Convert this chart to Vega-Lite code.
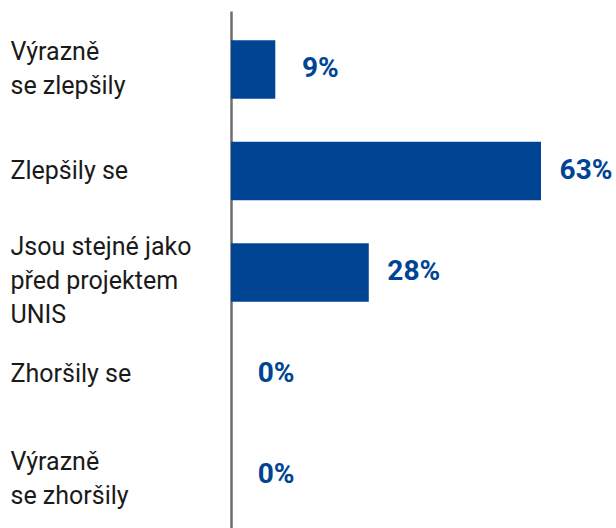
{
  "$schema": "https://vega.github.io/schema/vega-lite/v6.json",
  "width": 385,
  "height": 517,
  "padding": {"left": 231, "top": 11, "right": 0, "bottom": 0},
  "autosize": {"type": "none"},
  "background": "white",
  "config": {"view": {"stroke": null}, "font": "Roboto"},
  "data": {
    "values": [
      {"kategorie": "Výrazně|se zlepšily", "podil": 9, "popisek": "9%"},
      {"kategorie": "Zlepšily se", "podil": 63, "popisek": "63%"},
      {"kategorie": "Jsou stejné jako|před projektem|UNIS", "podil": 28, "popisek": "28%"},
      {"kategorie": "Zhoršily se", "podil": 0, "popisek": "0%"},
      {"kategorie": "Výrazně|se zhoršily", "podil": 0, "popisek": "0%"}
    ]
  },
  "encoding": {
    "y": {
      "field": "kategorie",
      "type": "nominal",
      "sort": null,
      "scale": {"paddingInner": 0.4236, "paddingOuter": 0.2586, "align": 0.557},
      "axis": {
        "title": null,
        "ticks": false,
        "tickSize": 0,
        "labelPadding": 221,
        "labelAlign": "left",
        "labelBaseline": "middle",
        "labelLimit": 0,
        "labelFont": "Roboto",
        "labelFontSize": 25,
        "labelLineHeight": 34,
        "labelColor": "#1a1a1a",
        "labelOffset": {
          "condition": [
            {"test": "datum.value == 'Jsou stejné jako|před projektem|UNIS'", "value": -25.5},
            {"test": "datum.value == 'Výrazně|se zlepšily'", "value": -17},
            {"test": "datum.value == 'Výrazně|se zhoršily'", "value": -13}
          ],
          "value": 0
        },
        "labelExpr": "split(datum.label, '|')",
        "domainColor": "#6e6e6e",
        "domainWidth": 2.5,
        "grid": false
      }
    }
  },
  "layer": [
    {
      "mark": {"type": "bar", "color": "#004494"},
      "encoding": {
        "x": {
          "field": "podil",
          "type": "quantitative",
          "scale": {"domain": [0, 78.24], "nice": false},
          "axis": null
        }
      }
    },
    {
      "mark": {"type": "text", "dx": 45, "align": "center", "baseline": "middle", "font": "Roboto", "fontWeight": "bold", "fontSize": 28, "color": "#004494"},
      "encoding": {
        "x": {"field": "podil", "type": "quantitative"},
        "text": {"field": "popisek"}
      }
    }
  ]
}
